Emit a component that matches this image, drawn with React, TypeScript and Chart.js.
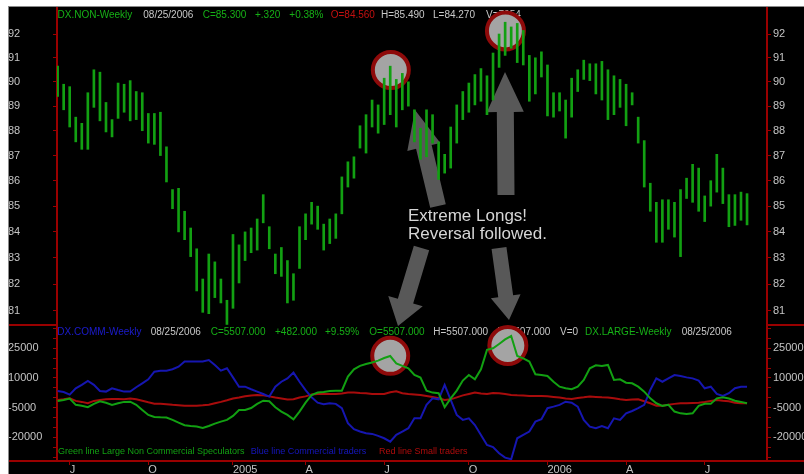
import React, { useEffect, useRef } from 'react';
import { Chart, registerables } from 'chart.js';

Chart.register(...registerables);

// ---- DX (US Dollar Index) weekly bars, 06/18/2004 .. 08/25/2006 ----
const highs = [
  90.65, 89.9, 89.8, 88.55, 88.3, 89.55, 90.5, 90.4, 89.15, 88.45,
  89.95, 89.9, 90.05, 89.6, 89.55, 88.7, 88.7, 88.75, 87.35, 85.65,
  85.7, 84.8, 84.15, 83.35, 82.2, 83.15, 82.85, 82.2, 81.4, 83.9,
  83.5, 84.0, 84.15, 84.5, 85.45, 84.2, 83.15, 83.4, 82.9, 82.4,
  84.2, 84.7, 85.15, 85.0, 84.3, 84.5, 84.7, 86.15, 86.75, 86.95,
  88.2, 88.65, 89.25, 89.05, 90.15, 90.65, 90.1, 90.35, 90.0, 88.85,
  88.1, 88.85, 88.65, 87.55, 87.05, 88.15, 89.05, 89.6, 89.95, 90.3,
  90.55, 90.25, 91.2, 92.0, 92.5, 92.3, 92.45, 92.15, 91.1, 91.0,
  91.25, 90.7, 89.55, 89.55, 89.25, 90.15, 90.5, 90.9, 90.75, 90.75,
  90.85, 90.5, 90.25, 90.1, 89.9, 89.55, 88.55, 87.6, 85.9, 85.15,
  85.25, 85.25, 85.15, 85.65, 86.1, 86.65, 86.5, 85.4, 86.0, 87.05,
  86.5, 85.45, 85.45, 85.55, 85.49,
];
const lows = [
  89.4, 88.85, 88.15, 87.55, 87.25, 87.25, 88.95, 88.4, 87.95, 87.75,
  88.5, 88.75, 88.4, 88.45, 88.0, 87.5, 87.45, 87.0, 85.95, 84.9,
  84.0, 83.7, 83.05, 81.75, 80.95, 80.9, 81.5, 81.3, 80.5, 81.1,
  82.05, 82.9, 83.2, 83.3, 84.35, 83.35, 82.4, 82.3, 81.3, 81.4,
  82.6, 83.7, 84.3, 84.1, 83.3, 83.55, 83.75, 84.7, 85.75, 86.1,
  87.3, 87.1, 88.15, 87.9, 88.25, 88.65, 88.15, 88.85, 89.0, 87.55,
  86.85, 86.95, 87.5, 86.05, 86.3, 86.5, 87.5, 88.45, 88.75, 89.05,
  89.2, 88.65, 89.25, 90.6, 91.1, 91.4, 90.8, 90.7, 89.2, 89.5,
  90.2, 88.6, 88.55, 88.8, 87.7, 88.55, 89.6, 90.1, 90.05, 89.5,
  89.25, 88.45, 88.65, 88.95, 88.2, 89.05, 87.5, 85.75, 84.8, 83.6,
  83.6, 84.1, 83.8, 83.05, 85.3, 85.15, 84.8, 84.4, 85.0, 85.55,
  85.1, 84.2, 84.25, 84.45, 84.27,
];

// ---- COT net positions (contracts) ----
const largeSpec = [ // green: Large Non Commercial Speculators
  -1600, -1100, -400, -3600, -4100, -4800, -3100, -1800, -2500, -3600,
  -2800, -2100, -2000, -3600, -6200, -8700, -9700, -9900, -10000, -11200,
  -12600, -13900, -14300, -14600, -15300, -14300, -13100, -12100, -11200, -9200,
  -6200, -6200, -5200, -3100, -1500, -1800, -4800, -7000, -8700, -10900,
  -7000, -2500, 1400, 2600, 2900, 3400, 3600, 3600, 10700, 14400,
  16100, 17100, 17800, 18800, 20100, 21100, 17400, 16100, 14900, 11500,
  10200, 3600, 2600, 2300, -4800, -300, 3600, 8700, 11500, 9300,
  14400, 24200, 25000, 27200, 29500, 31200, 21100, 19900, 18300, 11900,
  11500, 11000, 8100, 5600, 4800, 4300, 5600, 9000, 14900, 16400,
  16100, 16600, 9000, 9300, 7600, 7300, 5600, 3100, -300, -2800,
  -4100, -3600, -7000, -7900, -8200, -7900, -4100, -3100, -3100, -300,
  200, -400, -1500, -2100, -2800,
];
const commercial = [ // blue: Commercial traders
  3400, 2900, 1600, 4800, 6500, 8500, 6500, 3400, 3100, 4800,
  3900, 3100, 3100, 5300, 7300, 9300, 13200, 13700, 13700, 14400,
  15700, 18300, 18300, 18300, 18300, 19100, 16600, 13700, 14900, 10300,
  5600, 5600, 4300, 3100, 1900, 600, 5600, 8100, 9800, 12700,
  8100, 3900, 200, -2500, -3300, -2800, -3100, -5300, -12900, -15900,
  -17100, -18000, -18300, -19300, -20500, -22200, -18800, -17100, -15400, -10400,
  -10400, -3600, -300, -800, 6500, -1100, -8700, -11200, -10400, -13800,
  -18800, -23900, -25000, -28100, -30300, -31100, -20500, -18800, -17100, -12100,
  -10900, -5300, -4500, -3600, -2000, -2500, -4500, -11200, -14600, -15400,
  -14300, -15400, -10400, -11200, -7900, -6700, -5300, -3600, 3900, 9800,
  8100, 9800, 11500, 11000, 10300, 9800, 8700, 4800, 5600, 1900,
  900, 2300, 4800, 5600, 5500,
];
const smallTraders = [ // red: Small traders
  -1100, -800, -300, -1600, -2100, -2800, -1600, -1100, -800, -600,
  -600, -800, -400, -800, -1500, -2300, -3000, -3100, -3300, -3600,
  -3800, -4000, -4000, -4000, -3800, -3500, -2800, -2100, -1300, -400,
  100, 700, 1100, 1400, 1200, 700, 100, -400, -900, -800,
  100, 700, 1600, 1900, 1900, 1900, 1900, 2100, 2600, 2600,
  2400, 2300, 1900, 1900, 1900, 2800, 3300, 2300, 1900, 1700,
  1400, 900, 400, -300, -1100, -800, 200, 1200, 1900, 2600,
  2100, 1900, 2400, 2300, 1900, 1400, 1200, 1100, 900, 900,
  900, 700, 400, 100, -400, -600, -100, 200, 600, 400,
  200, 100, -300, -800, -1100, -900, -800, -1800, -2800, -4000,
  -4000, -3500, -3100, -2800, -2800, -2600, -2500, -2100, -1600, -1100,
  -1500, -1800, -2500, -2800, -2800,
];

// ---- axes ----
const priceTicks = [81, 82, 83, 84, 85, 86, 87, 88, 89, 90, 91, 92];
const cotTicks = [-30000, -25000, -20000, -15000, -10000, -5000, 0, 5000, 10000, 15000, 20000, 25000, 30000, 35000];
const cotLabelled = [25000, 10000, -5000, -20000];
const monthTickIdx = [2, 15, 29, 41, 54, 68, 81, 94, 107];
const monthTickLabels = ['J', 'O', '2005', 'A', 'J', 'O', '2006', 'A', 'J'];

// ---- header texts ----
const topHeader = [
  { t: 'DX.NON-Weekly', x: 57.5, c: 'g' },
  { t: '08/25/2006', x: 143.3, c: 'w' },
  { t: 'C=85.300', x: 202.7, c: 'g' },
  { t: '+.320', x: 255, c: 'g' },
  { t: '+0.38%', x: 289.3, c: 'g' },
  { t: 'O=84.560', x: 330.7, c: 'r' },
  { t: 'H=85.490', x: 381, c: 'w' },
  { t: 'L=84.270', x: 433, c: 'w' },
  { t: 'V=7054', x: 486, c: 'w' },
];
const bottomHeader = [
  { t: 'DX.COMM-Weekly', x: 57.3, c: 'b' },
  { t: '08/25/2006', x: 150.7, c: 'w' },
  { t: 'C=5507.000', x: 210.7, c: 'g' },
  { t: '+482.000', x: 275, c: 'g' },
  { t: '+9.59%', x: 325, c: 'g' },
  { t: 'O=5507.000', x: 369.3, c: 'g' },
  { t: 'H=5507.000', x: 433.3, c: 'w' },
  { t: 'L=5507.000', x: 497.3, c: 'w' },
  { t: 'V=0', x: 560, c: 'w' },
  { t: 'DX.LARGE-Weekly', x: 585, c: 'g' },
  { t: '08/25/2006', x: 681.7, c: 'w' },
];
const legendTexts = [
  { t: 'Green line Large Non Commercial Speculators', x: 58, c: 'g' },
  { t: 'Blue line Commercial traders', x: 250.7, c: 'b' },
  { t: 'Red line Small traders', x: 379, c: 'r' },
];

// annotation circles (data coordinates)
const circles = [
  { axis: 'yTop', idx: 55.1, value: 90.49, r: 20 },
  { axis: 'yTop', idx: 74.05, value: 92.13, r: 20.5 },
  { axis: 'yBot', idx: 55.0, value: 21200, r: 20 },
  { axis: 'yBot', idx: 74.45, value: 26400, r: 20.5 },
];
// annotation arrows (page pixels): tail, tip, shaft half width, head half width, head length
const arrows = [
  { x0: 438, y0: 206, x1: 415, y1: 110, sw: 8, hw: 17, hl: 38 },
  { x0: 506, y0: 195, x1: 505, y1: 72, sw: 8.5, hw: 18.5, hl: 40 },
  { x0: 421.5, y0: 248, x1: 398, y1: 326, sw: 8, hw: 18, hl: 26 },
  { x0: 499, y0: 248, x1: 509, y1: 320, sw: 7.5, hw: 15, hl: 24 },
];

const OFFX = 8;
const OFFY = 6;
const W = 796;
const H = 468;

const GREEN = '#12a012';
const BLUE = '#1616b0';
const RED = '#a80c0c';
const AXIS = '#9a0000';
const TICK = '#c4c4c4';
const FONT = '"Liberation Sans", Arial, Helvetica, sans-serif';
const colorOf = (c: string) =>
  c === 'g' ? '#16b016' : c === 'r' ? '#c41010' : c === 'b' ? '#1c1cd0' : '#c8c8c8';

const annotPlugin = {
  id: 'annot',
  beforeDraw(chart: any) {
    const { ctx, width, height } = chart;
    ctx.save();
    ctx.fillStyle = '#000';
    ctx.fillRect(0, 0, width, height);
    ctx.restore();
  },
  beforeDatasetsDraw(chart: any) {
    const { ctx } = chart;
    ctx.save();
    ctx.textBaseline = 'middle';
    ctx.textAlign = 'left';
    ctx.font = `10px ${FONT}`;
    topHeader.forEach((h) => {
      ctx.fillStyle = colorOf(h.c);
      ctx.fillText(h.t, h.x - OFFX, 15 - OFFY);
    });
    bottomHeader.forEach((h) => {
      ctx.fillStyle = colorOf(h.c);
      ctx.fillText(h.t, h.x - OFFX, 332.5 - OFFY);
    });
    ctx.font = `9px ${FONT}`;
    legendTexts.forEach((h) => {
      ctx.fillStyle = h.c === 'g' ? GREEN : h.c === 'b' ? '#1616c0' : '#b00c0c';
      ctx.fillText(h.t, h.x - OFFX, 452 - OFFY);
    });
    ctx.font = `17px ${FONT}`;
    ctx.fillStyle = '#d6d6d6';
    ctx.fillText('Extreme Longs!', 408 - OFFX, 216.7 - OFFY);
    ctx.fillText('Reversal followed.', 408 - OFFX, 234 - OFFY);

    // arrows
    ctx.fillStyle = '#585858';
    arrows.forEach((a) => {
      const x0 = a.x0 - OFFX, y0 = a.y0 - OFFY, x1 = a.x1 - OFFX, y1 = a.y1 - OFFY;
      const len = Math.hypot(x1 - x0, y1 - y0);
      const ux = (x1 - x0) / len, uy = (y1 - y0) / len;
      const px = -uy, py = ux;
      const bx = x1 - ux * a.hl, by = y1 - uy * a.hl;
      ctx.beginPath();
      ctx.moveTo(x0 + px * a.sw, y0 + py * a.sw);
      ctx.lineTo(bx + px * a.sw, by + py * a.sw);
      ctx.lineTo(bx + px * a.hw, by + py * a.hw);
      ctx.lineTo(x1, y1);
      ctx.lineTo(bx - px * a.hw, by - py * a.hw);
      ctx.lineTo(bx - px * a.sw, by - py * a.sw);
      ctx.lineTo(x0 - px * a.sw, y0 - py * a.sw);
      ctx.closePath();
      ctx.fill();
    });

    // circles
    circles.forEach((c) => {
      const cx = chart.scales.x.getPixelForValue(c.idx);
      const cy = chart.scales[c.axis].getPixelForValue(c.value);
      ctx.beginPath();
      ctx.arc(cx, cy, c.r - 2, 0, Math.PI * 2);
      ctx.fillStyle = '#a4a4a4';
      ctx.fill();
      ctx.lineWidth = 4;
      ctx.strokeStyle = '#8e0a0a';
      ctx.stroke();
    });
    ctx.restore();
  },
  afterDraw(chart: any) {
    const { ctx, width, chartArea } = chart;
    const divY = chart.scales.yTop.bottom;
    ctx.save();
    ctx.strokeStyle = AXIS;
    ctx.lineWidth = 2;
    ctx.beginPath();
    ctx.moveTo(0, divY);
    ctx.lineTo(chartArea.left, divY);
    ctx.moveTo(chartArea.right, divY);
    ctx.lineTo(width, divY);
    ctx.moveTo(0, chartArea.bottom);
    ctx.lineTo(width, chartArea.bottom);
    ctx.stroke();
    ctx.strokeStyle = '#8a8a8a';
    ctx.lineWidth = 1;
    ctx.beginPath();
    ctx.moveTo(0.5, 0);
    ctx.lineTo(0.5, chart.height);
    ctx.moveTo(0, 0.5);
    ctx.lineTo(width, 0.5);
    ctx.stroke();
    ctx.restore();
  },
};

const yGrid = { drawOnChartArea: false, drawTicks: true, tickLength: 4, color: AXIS, lineWidth: 1 };
const yBorder = { color: AXIS, width: 2 };
const tickFont = { family: FONT, size: 11 };

const fitY = (position: string) => (s: any) => {
  s.width = position === 'left' ? 49 : 37;
  s.paddingTop = 0;
  s.paddingBottom = 0;
  s.paddingLeft = 0;
  s.paddingRight = 0;
};

const priceAxis = (position: string, weight: number) => ({
  type: 'logarithmic',
  position,
  stack: position === 'left' ? 'L' : 'R',
  stackWeight: 318,
  weight,
  min: 80.48,
  max: 93.15,
  bounds: 'data',
  afterBuildTicks: (s: any) => {
    s.ticks = priceTicks.map((v) => ({ value: v }));
  },
  afterFit: fitY(position),
  ticks: {
    autoSkip: false,
    crossAlign: position === 'left' ? 'far' : 'near',
    padding: 2,
    color: TICK,
    font: tickFont,
    callback: (v: any) => String(Math.round(Number(v))),
  },
  grid: yGrid,
  border: yBorder,
});

const cotAxis = (position: string, weight: number) => ({
  type: 'linear',
  position,
  stack: position === 'left' ? 'L' : 'R',
  stackWeight: 136,
  weight,
  min: -32000,
  max: 36800,
  afterBuildTicks: (s: any) => {
    s.ticks = cotTicks.map((v) => ({ value: v }));
  },
  afterFit: fitY(position),
  ticks: {
    autoSkip: false,
    crossAlign: position === 'left' ? 'far' : 'near',
    padding: 2,
    color: TICK,
    font: tickFont,
    callback: (v: any) => (cotLabelled.includes(Number(v)) ? String(v) : ''),
  },
  grid: yGrid,
  border: yBorder,
});

export default function App() {
  const ref = useRef<HTMLCanvasElement | null>(null);

  useEffect(() => {
    if (!ref.current) return;
    const line = (data: number[], color: string, order: number) => ({
      type: 'line',
      data: data.map((v, i) => ({ x: i, y: v })),
      xAxisID: 'x',
      yAxisID: 'yBot',
      borderColor: color,
      borderWidth: 2,
      pointRadius: 0,
      tension: 0,
      fill: false,
      order,
    });
    const chart = new Chart(ref.current, {
      type: 'line',
      data: {
        datasets: [
          {
            type: 'bar',
            label: 'DX.NON-Weekly',
            data: highs.map((h, i) => ({ x: i, y: [lows[i], h] })),
            xAxisID: 'x',
            yAxisID: 'yTop',
            backgroundColor: GREEN,
            barThickness: 2,
            borderWidth: 0,
            order: 0,
          },
          { ...line(largeSpec, GREEN, 1), label: 'Large Non Commercial Speculators' },
          { ...line(commercial, BLUE, 2), label: 'Commercial traders' },
          { ...line(smallTraders, RED, 3), label: 'Small traders' },
        ] as any,
      },
      options: {
        animation: false,
        responsive: false,
        maintainAspectRatio: false,
        events: [],
        layout: { padding: { top: 1, left: 0, right: 0, bottom: 0 } },
        plugins: {
          legend: { display: false },
          tooltip: { enabled: false },
          title: { display: false },
        },
        scales: {
          x: {
            type: 'linear',
            position: 'bottom',
            offset: false,
            min: -0.1,
            max: 117.3,
            afterBuildTicks: (s: any) => {
              s.ticks = monthTickIdx.map((v) => ({ value: v }));
            },
            afterFit: (s: any) => {
              s.height = 13;
              s.paddingLeft = 0;
              s.paddingRight = 0;
              s.paddingTop = 0;
              s.paddingBottom = 0;
            },
            ticks: {
              autoSkip: false,
              maxRotation: 0,
              align: 'start',
              padding: -1.5,
              color: TICK,
              font: tickFont,
              callback: (v: any) => monthTickLabels[monthTickIdx.indexOf(Number(v))] ?? '',
            },
            grid: { offset: false, drawOnChartArea: false, drawTicks: true, tickLength: 4, color: AXIS, lineWidth: 1 },
            border: { color: AXIS, width: 2 },
          },
          yBot: cotAxis('left', 0),
          yTop: priceAxis('left', 1),
          yTopR: priceAxis('right', 0),
          yBotR: cotAxis('right', 1),
        } as any,
      },
      plugins: [annotPlugin],
    } as any);
    return () => chart.destroy();
  }, []);

  return (
    <div style={{ position: 'fixed', left: 0, top: 0, width: 804, height: 474, background: '#fff', overflow: 'hidden' }}>
      <canvas
        ref={ref}
        width={W}
        height={H}
        style={{ position: 'absolute', left: OFFX, top: OFFY, width: W, height: H, display: 'block' }}
      />
    </div>
  );
}
